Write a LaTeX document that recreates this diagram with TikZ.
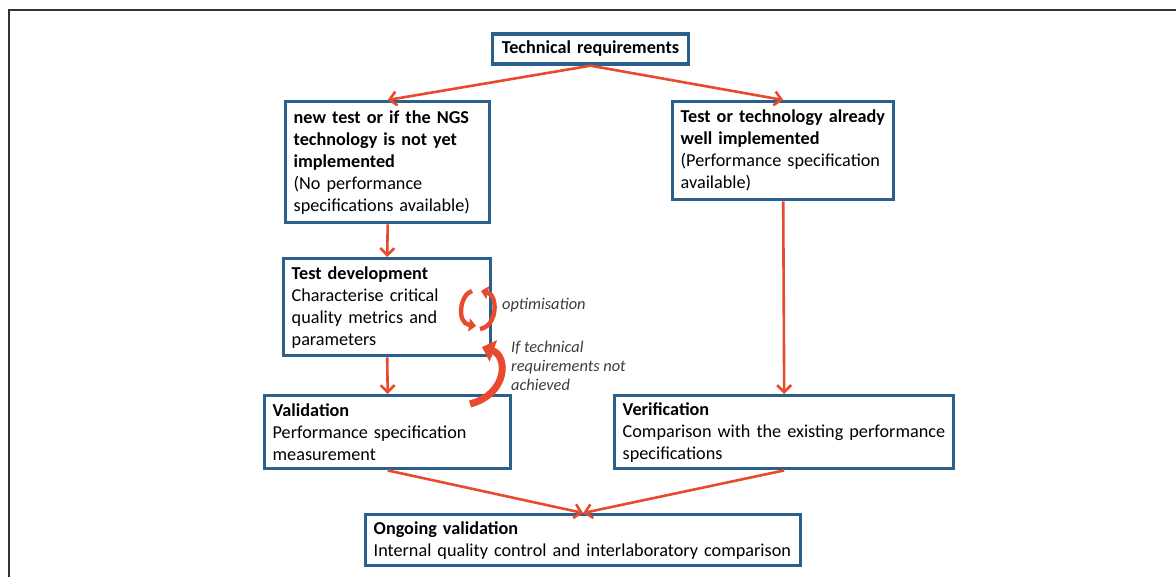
\documentclass[tikz,border=0pt]{standalone}
\usepackage{fontspec}
\setmainfont{Carlito}
\usetikzlibrary{arrows.meta}
\definecolor{boxblue}{RGB}{44,96,140}
\definecolor{arrred}{RGB}{232,74,45}
\definecolor{notegray}{RGB}{60,60,60}
\tikzset{
  box/.style={draw=boxblue, line width=3.4pt, inner xsep=8pt, inner ysep=2pt, align=left, anchor=north west,
    font=\fontsize{18.2}{22}\selectfont},
  arr/.style={draw=arrred, line width=2.6pt, -{Straight Barb[length=7pt,width=14pt,line width=2.6pt]}},
  loop/.style={draw=arrred, line width=4.4pt, -{Triangle[length=7pt,width=13pt]}},
  note/.style={font=\fontsize{16.4}{19}\selectfont\itshape, text=notegray, align=left, anchor=west, inner sep=0pt}
}
\begin{document}
\begin{tikzpicture}[x=1pt,y=-1pt]
\useasboundingbox (0,0) rectangle (1176,577);
\draw[line width=2pt, draw=black!80] (1176,10) -- (9,10) -- (9,577);

\node[box, minimum height=30pt, anchor=center, align=center, text width=180pt] (tr) at (590.5,49) {\textbf{Technical requirements}};

\node[box, text width=188pt, minimum height=121pt] (n2) at (284,100)
 {\textbf{new test or if the NGS}\\\textbf{technology is not yet}\\\textbf{implemented}\\(No performance\\specifications available)};

\node[box, text width=205pt, minimum height=98pt] (n3) at (671,100)
 {\textbf{Test or technology already}\\\textbf{well implemented}\\(Performance specification\\available)};

\node[box, text width=191pt, minimum height=97pt] (td) at (282,257)
 {\textbf{Test development}\\Characterise critical\\quality metrics and\\parameters};

\node[box, text width=230pt, minimum height=73pt] (val) at (263,394)
 {\textbf{Validation}\\Performance specification\\measurement};

\node[box, text width=323pt, minimum height=73pt] (ver) at (613,394)
 {\textbf{Verification}\\Comparison with the existing performance\\specifications};

\node[box, text width=419pt, minimum height=51pt] (og) at (364,513)
 {\textbf{Ongoing validation}\\Internal quality control and interlaboratory comparison};

\draw[arr] (tr.south) -- (n2.north);
\draw[arr] (tr.south) -- (n3.north);
\draw[arr] (n2.south) -- (td.north);
\draw[arr] (n3.south) -- (ver.north);
\draw[arr] (td.south) -- (val.north);
\draw[arr] (val.south) -- (og.north);
\draw[arr] (ver.south) -- (og.north);

% optimisation loop
\coordinate (la) at (472,291);
\coordinate (lb) at (476,326);
\coordinate (ra) at (480,329);
\coordinate (rb) at (481,291);
\draw[loop] (la) .. controls (460,294) and (456,323) .. (lb);
\draw[loop] (ra) .. controls (498,326) and (498,295) .. (rb);
\node[note] (opt) at (502,305) {optimisation};

% big return arrow
\coordinate (ba) at (470,404);
\coordinate (bb) at (482,347);
\draw[draw=arrred, line width=7pt, -{Triangle[length=12pt,width=22pt]}] (ba) .. controls (508,394) and (508,356) .. (bb);
\node[note, anchor=north west] (ift) at (511,341) {If technical\\requirements not\\achieved};
\end{tikzpicture}
\end{document}
